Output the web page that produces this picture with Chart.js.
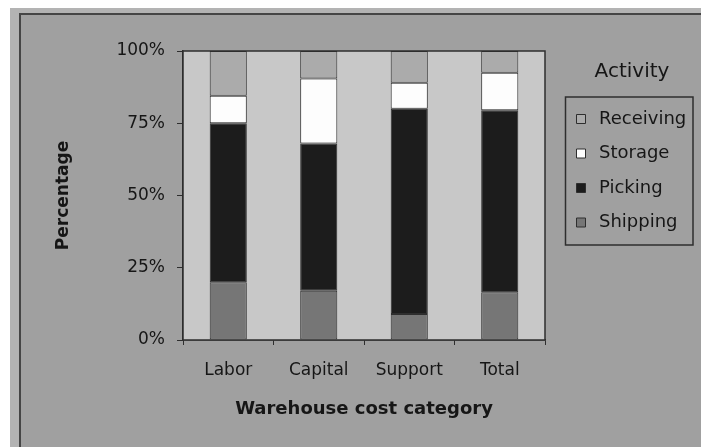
<!DOCTYPE html>
<html>
<head>
<meta charset="utf-8">
<script src="https://cdn.jsdelivr.net/npm/chart.js@4.4.1/dist/chart.umd.min.js"></script>
<style>
  html, body { margin: 0; padding: 0; background: #fff; overflow: hidden; }
  #outer {
    position: absolute; left: 10px; top: 8px; right: 0; bottom: 0;
    background: #b3b3b3;
  }
  #frame {
    position: absolute; left: 9px; top: 5px; width: 680px; height: 432px;
    border-left: 2px solid #454545; border-top: 2px solid #454545;
    background: #a0a0a0;
  }
  canvas { display: block; }
</style>
</head>
<body>
<div id="outer"><div id="frame"><canvas id="chart" width="680" height="432"></canvas></div></div>
<script>
// cost categories
var categories = ['Labor', 'Capital', 'Support', 'Total'];

// share of each activity, percent
var shipping  = [20,   17,   9,  16.5];
var picking   = [55,   51,  71,  63];
var storage   = [9.5, 22.5,  9,  13];
var receiving = [15.5, 9.5, 11,   7.5];

var yTicks = [0, 25, 50, 75, 100];

var textColor = '#161616';
var edge = '#2e2e2e';
var font = 'DejaVu Sans, Verdana, sans-serif';

// plot area fill + frame
var plotBg = {
  id: 'plotBg',
  beforeDatasetsDraw: function(chart) {
    var a = chart.chartArea, ctx = chart.ctx;
    ctx.save();
    ctx.fillStyle = '#c8c8c8';
    ctx.fillRect(a.left, a.top, a.right - a.left, a.bottom - a.top);
    ctx.restore();
  },
  afterDatasetsDraw: function(chart) {
    var a = chart.chartArea, ctx = chart.ctx;
    ctx.save();
    ctx.strokeStyle = edge;
    ctx.lineWidth = 1.5;
    ctx.strokeRect(a.left, a.top, a.right - a.left, a.bottom - a.top);
    ctx.restore();
  }
};

// legend sits right of the plot with its own box
var legendBox = {
  id: 'legendBox',
  beforeInit: function(chart) {
    var fit = chart.legend.fit;
    chart.legend.fit = function() {
      fit.call(this);
      this.width = 156;
    };
  },
  afterLayout: function(chart) {
    var lg = chart.legend;
    lg.left = chart.chartArea.right + 10.5;
    lg.width = 153;
    lg.right = lg.left + lg.width;
  },
  afterDraw: function(chart) {
    var lg = chart.legend, ctx = chart.ctx;
    var hb = lg.legendHitBoxes;
    if (!hb || !hb.length) return;
    var last = hb[hb.length - 1];
    var boxLeft = lg.left + lg.options.labels.padding + 4.5;
    var x0 = boxLeft - 11, x1 = chart.width - 8;
    var y0 = hb[0].top - 13, y1 = last.top + last.height + 13.5;
    ctx.save();
    ctx.strokeStyle = edge;
    ctx.lineWidth = 1.5;
    ctx.strokeRect(x0, y0, x1 - x0, y1 - y0);
    ctx.restore();
  }
};

function ds(label, data, color) {
  return {
    label: label,
    data: data,
    backgroundColor: color,
    borderColor: edge,
    borderWidth: 1,
    borderSkipped: false,
    categoryPercentage: 1,
    barPercentage: 0.41
  };
}

new Chart(document.getElementById('chart'), {
  type: 'bar',
  data: {
    labels: categories,
    datasets: [
      ds('Shipping', shipping, '#767676'),
      ds('Picking', picking, '#1c1c1c'),
      ds('Storage', storage, '#fdfdfd'),
      ds('Receiving', receiving, '#ababab')
    ]
  },
  plugins: [plotBg, legendBox],
  options: {
    responsive: false,
    animation: false,
    layout: { padding: { top: 36, left: 0, right: 0, bottom: 0 } },
    plugins: {
      tooltip: { enabled: false },
      legend: {
        position: 'right',
        align: 'start',
        reverse: true,
        title: {
          display: true,
          text: 'Activity',
          color: textColor,
          font: { family: font, size: 20 },
          padding: { top: 11, bottom: 7.5 }
        },
        labels: {
          color: textColor,
          usePointStyle: true,
          pointStyle: 'rect',
          boxWidth: 18,
          boxHeight: 9,
          padding: 16.5,
          font: { family: font, size: 18 }
        }
      }
    },
    scales: {
      x: {
        stacked: true,
        afterFit: function(scale) { scale.height = 107; },
        grid: { drawOnChartArea: false, offset: true, tickLength: 5, color: edge },
        border: { color: edge, width: 1.5 },
        ticks: {
          color: textColor,
          padding: 15,
          font: { family: font, size: 17 }
        },
        title: {
          display: true,
          text: 'Warehouse cost category',
          color: textColor,
          font: { family: font, size: 18, weight: 'bold' },
          padding: { top: 0, bottom: 27 }
        }
      },
      y: {
        stacked: true,
        min: 0,
        max: 100,
        afterFit: function(scale) { scale.width = 162; },
        afterBuildTicks: function(scale) {
          scale.ticks = yTicks.map(function(v) { return { value: v }; });
        },
        grid: { drawOnChartArea: false, tickLength: 6, color: edge },
        border: { color: edge, width: 1.5 },
        ticks: {
          color: textColor,
          padding: 12,
          font: { family: font, size: 17 },
          callback: function(v) { return v + '%'; }
        },
        title: {
          display: true,
          text: 'Percentage',
          color: textColor,
          font: { family: font, size: 17, weight: 'bold' },
          padding: { top: 32, bottom: 0 }
        }
      }
    }
  }
});
</script>
</body>
</html>
